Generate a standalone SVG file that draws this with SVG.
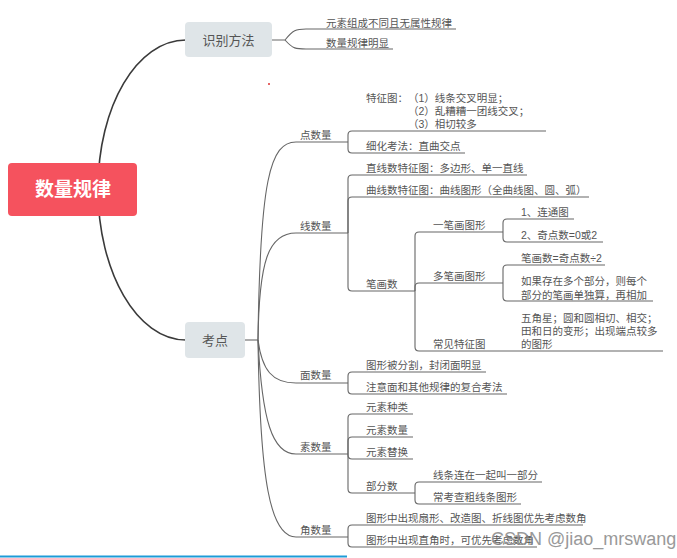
<svg xmlns="http://www.w3.org/2000/svg" width="677" height="558" viewBox="0 0 677 558">
<style>
text{font-family:"Liberation Sans","Noto Sans CJK SC",sans-serif;fill:#555;font-size:10.5px}
.main{fill:none;stroke:#3a3a3a;stroke-width:1.6}
.br{fill:none;stroke:#666;stroke-width:1.1}
.node{fill:#dfe5e8}
</style>
<rect width="677" height="558" fill="#fff"/>
<g id="connectors">
<path class="main" d="M98 189 C98 106 137 40 186 40"/>
<path class="main" d="M98 189 C98 272 137 340 186 340"/>
<path class="br" d="M272 40 L285 40 C293 30 296 29 306 29 L456 29"/>
<path class="br" d="M285 40 C293 49 296 49 306 49 L393 49"/>
<path class="br" d="M245 340 L258 340"/>
<path class="br" d="M258 340 C260 180 270 142 296 142 L348 142"/>
<path class="br" d="M258 340 C259 262 268 233 296 233 L348 233"/>
<path class="br" d="M258 340 C262 370 272 383 296 383 L348 383"/>
<path class="br" d="M258 340 C262 420 272 454 296 454 L348 454"/>
<path class="br" d="M258 340 C260 480 270 537 296 537 L348 537"/>
<path class="br" d="M348 142 L348 135 Q348 131 352 131 L546 131"/>
<path class="br" d="M348 142 L348 149 Q348 153 352 153 L465 153"/>
<path class="br" d="M348 233 L348 179 Q348 175 352 175 L527 175"/>
<path class="br" d="M348 233 L348 201 Q348 197 352 197 L589 197"/>
<path class="br" d="M348 233 L348 287 Q348 291 352 291 L415 291"/>
<path class="br" d="M415 291 L415 236 Q415 232 419 232 L503 232"/>
<path class="br" d="M415 291 L415 287 Q415 283 419 283 L503 283"/>
<path class="br" d="M415 291 L415 347 Q415 351 419 351 L663 351"/>
<path class="br" d="M503 232 L503 223 Q503 219 507 219 L574 219"/>
<path class="br" d="M503 232 L503 238 Q503 242 507 242 L603 242"/>
<path class="br" d="M503 283 L503 269 Q503 265 507 265 L605 265"/>
<path class="br" d="M503 283 L503 297 Q503 301 507 301 L653 301"/>
<path class="br" d="M348 383 L348 376 Q348 372 352 372 L486 372"/>
<path class="br" d="M348 383 L348 390 Q348 394 352 394 L507 394"/>
<path class="br" d="M348 454 L348 418 Q348 414 352 414 L413 414"/>
<path class="br" d="M348 454 L348 441 Q348 437 352 437 L413 437"/>
<path class="br" d="M348 454 L348 455 Q348 459 352 459 L413 459"/>
<path class="br" d="M348 454 L348 489 Q348 493 352 493 L415 493"/>
<path class="br" d="M415 493 L415 486 Q415 482 419 482 L542 482"/>
<path class="br" d="M415 493 L415 500 Q415 504 419 504 L521 504"/>
<path class="br" d="M348 537 L348 529 Q348 525 352 525 L583 525"/>
<path class="br" d="M348 537 L348 543 Q348 547 352 547 L537 547"/>
</g>
<g id="root">
<rect x="8" y="163" width="129" height="53" rx="4" fill="#f5525e"/>
<text x="73" y="196" text-anchor="middle" style="font-size:19px;font-weight:bold;fill:#fff">数量规律</text>
</g>
<g id="n-shibie">
<rect class="node" x="185" y="22" width="87" height="35" rx="4"/>
<text x="228.5" y="45" text-anchor="middle" style="font-size:13px">识别方法</text>
</g>
<g id="n-kaodian">
<rect class="node" x="185" y="322" width="60" height="36" rx="4"/>
<text x="215" y="345" text-anchor="middle" style="font-size:13px">考点</text>
</g>
<g id="n-s1"><text x="326" y="27">元素组成不同且无属性规律</text></g>
<g id="n-s2"><text x="326" y="47">数量规律明显</text></g>
<g id="n-dian"><text x="300" y="139">点数量</text></g>
<g id="n-xian"><text x="300" y="230">线数量</text></g>
<g id="n-mian"><text x="300" y="379">面数量</text></g>
<g id="n-su"><text x="300" y="451">素数量</text></g>
<g id="n-jiao"><text x="300" y="534">角数量</text></g>
<g id="n-tezheng">
<text x="366" y="102">特征图：<tspan x="408">（1）线条交叉明显；</tspan><tspan x="408" y="115">（2）乱糟糟一团线交叉；</tspan><tspan x="408" y="128">（3）相切较多</tspan></text>
</g>
<g id="n-xihua"><text x="366" y="150">细化考法：直曲交点</text></g>
<g id="n-zhixian"><text x="366" y="172">直线数特征图：多边形、单一直线</text></g>
<g id="n-quxian"><text x="366" y="194">曲线数特征图：曲线图形（全曲线图、圆、弧）</text></g>
<g id="n-bihua"><text x="366" y="288">笔画数</text></g>
<g id="n-yibi"><text x="433" y="229">一笔画图形</text></g>
<g id="n-duobi"><text x="433" y="280">多笔画图形</text></g>
<g id="n-changjian"><text x="433" y="348">常见特征图</text></g>
<g id="n-liantong"><text x="521" y="216">1、连通图</text></g>
<g id="n-jidian"><text x="521" y="239">2、奇点数=0或2</text></g>
<g id="n-bihuashu"><text x="521" y="262">笔画数=奇点数÷2</text></g>
<g id="n-ruguo">
<text x="521" y="285">如果存在多个部分，则每个<tspan x="521" y="299">部分的笔画单独算，再相加</tspan></text>
</g>
<g id="n-wujiao">
<text x="521" y="322">五角星；圆和圆相切、相交；<tspan x="521" y="335">田和日的变形；出现端点较多</tspan><tspan x="521" y="348">的图形</tspan></text>
</g>
<g id="n-fenge"><text x="366" y="369">图形被分割，封闭面明显</text></g>
<g id="n-fuhe"><text x="366" y="391">注意面和其他规律的复合考法</text></g>
<g id="n-zhonglei"><text x="366" y="411">元素种类</text></g>
<g id="n-shuliang"><text x="366" y="434">元素数量</text></g>
<g id="n-tihuan"><text x="366" y="456">元素替换</text></g>
<g id="n-bufen"><text x="366" y="490">部分数</text></g>
<g id="n-lianzai"><text x="433" y="479">线条连在一起叫一部分</text></g>
<g id="n-cukao"><text x="433" y="501">常考查粗线条图形</text></g>
<g id="n-shanxing"><text x="366" y="522">图形中出现扇形、改造图、折线图优先考虑数角</text></g>
<g id="n-zhijiao"><text x="366" y="544">图形中出现直角时，可优先考虑数角</text></g>
<circle cx="269" cy="84" r="1" fill="#d33"/>
<text x="491" y="545" style="font-size:18px;fill:#888;opacity:0.85">CSDN @jiao_mrswang</text>
<line x1="0" y1="556.5" x2="347" y2="556.5" stroke="#1e9bd7" stroke-width="2"/>
</svg>
